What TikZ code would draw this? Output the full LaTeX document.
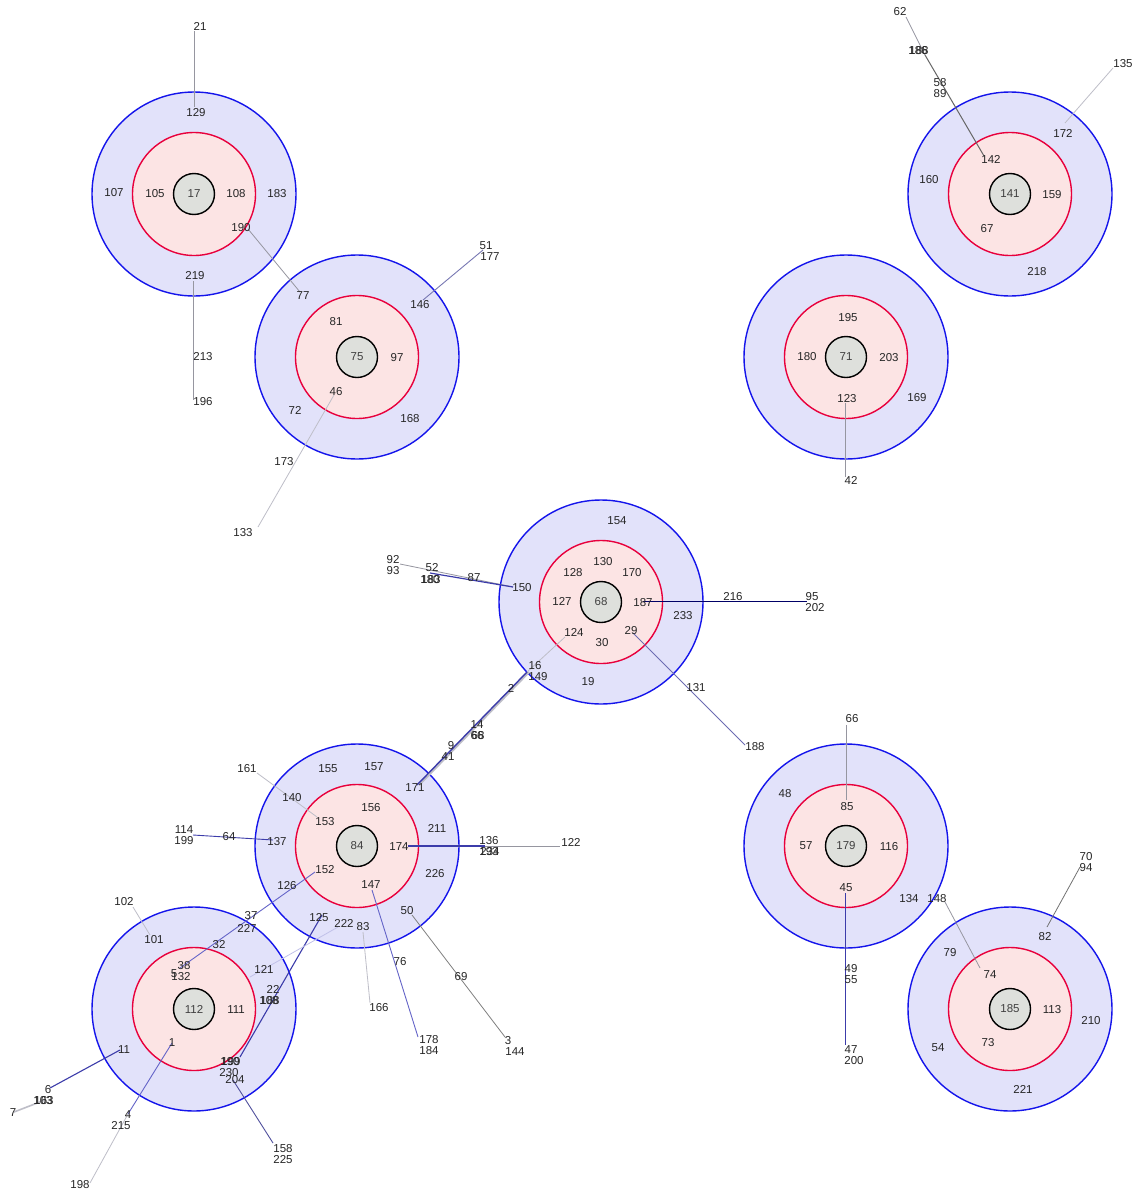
\documentclass[tikz,border=0pt]{standalone}
\usepackage{fontspec}
\setmainfont{Liberation Sans}
\definecolor{ringblue}{RGB}{20,20,235}
\definecolor{ringred}{RGB}{232,0,60}
\definecolor{ringfill}{RGB}{226,226,250}
\definecolor{redfill}{RGB}{252,228,228}
\definecolor{corefill}{RGB}{222,224,220}
\definecolor{linegray}{RGB}{150,150,160}
\definecolor{lightgray}{RGB}{190,190,200}
\definecolor{lineblue}{RGB}{100,100,200}
\definecolor{linedark}{RGB}{60,60,170}
\tikzset{
  lbl/.style={font=\fontsize{11.5}{12}\selectfont, inner sep=0pt, text=black!85},
  outerc/.style={circle, draw=ringblue, fill=ringfill, line width=1.4pt, minimum size=204pt, inner sep=0pt},
  redc/.style={circle, draw=ringred, fill=redfill, line width=1.4pt, minimum size=123pt, inner sep=0pt},
  corec/.style={circle, draw=black, fill=corefill, line width=1.4pt, minimum size=41pt, inner sep=0pt, font=\fontsize{11.5}{12}\selectfont, text=black!75},
  gline/.style={draw=linegray, line width=0.8pt},
  lgline/.style={draw=lightgray, line width=0.8pt},
  bline/.style={draw=lineblue, line width=0.9pt},
  dline/.style={draw=linedark, line width=1.4pt},
}
\newcommand\ringset[4]{%
  \node[outerc] (#1o) at (#2,#3) {};
  \node[redc] (#1r) at (#2,#3) {};
  \node[corec] (#1) at (#2,#3) {#4};
}
\begin{document}
\begin{tikzpicture}[x=1pt,y=-1pt]
\path[use as bounding box] (0,0) rectangle (1142,1194);
\fill[white] (0,0) rectangle (1142,1194);
% ---------------- rings
\ringset{c17}{194}{194}{17}
\ringset{c75}{357}{357}{75}
\ringset{c141}{1010}{194}{141}
\ringset{c71}{846}{357}{71}
\ringset{c68}{601}{602}{68}
\ringset{c84}{357}{846}{84}
\ringset{c112}{194}{1009}{112}
\ringset{c179}{846}{846}{179}
\ringset{c185}{1010}{1009}{185}
% ---------------- connector end points
\coordinate (a21) at (194,31);   \coordinate (a129) at (194,107);
\coordinate (a219) at (193,281); \coordinate (a196) at (193,400);
\coordinate (a190) at (248,229); \coordinate (a77) at (300,292);
\coordinate (a146) at (423,300); \coordinate (a51) at (483,250);
\coordinate (a46) at (334,395);  \coordinate (a133) at (258,527);
\coordinate (a62) at (906,17);   \coordinate (a186) at (925,55); \coordinate (a142) at (984,156);
\coordinate (a172) at (1065,123); \coordinate (a135) at (1113,68);
\coordinate (a123) at (845,403); \coordinate (a42) at (845,477);
\coordinate (a92) at (400,564);  \coordinate (a52) at (430,573); \coordinate (a150) at (513,587);
\coordinate (a187) at (643,601); \coordinate (a95) at (807,601);
\coordinate (a29) at (633,633);  \coordinate (a188) at (745,745);
\coordinate (a124) at (565,637); \coordinate (a16) at (527,672); \coordinate (a171) at (417,785);
\coordinate (a161) at (257,773); \coordinate (a153) at (317,817);
\coordinate (a114) at (193,835); \coordinate (a137) at (273,840);
\coordinate (a174) at (408,846); \coordinate (a136) at (485,846); \coordinate (a122) at (560,846);
\coordinate (a152) at (315,872); \coordinate (a38) at (180,968);
\coordinate (a147) at (372,890); \coordinate (a178) at (418,1037);
\coordinate (a50) at (412,915);  \coordinate (a3) at (505,1037);
\coordinate (a83) at (363,932);  \coordinate (a166) at (370,1003);
\coordinate (a125) at (322,915); \coordinate (a199) at (240,1057);
\coordinate (a222) at (338,927); \coordinate (a121) at (250,977);
\coordinate (a102) at (133,907); \coordinate (a101) at (150,935);
\coordinate (a11) at (120,1050); \coordinate (a6) at (50,1088);
\coordinate (a103) at (45,1100); \coordinate (a7) at (14,1112);
\coordinate (a1) at (172,1043);  \coordinate (a4) at (128,1114); \coordinate (a198) at (90,1183);
\coordinate (a204) at (233,1080); \coordinate (a158) at (273,1143);
\coordinate (a66) at (846,725);  \coordinate (a85) at (846,800);
\coordinate (a45) at (845,893);  \coordinate (a47) at (845,1045);
\coordinate (a148) at (945,902); \coordinate (a74) at (980,968);
\coordinate (a82) at (1047,927); \coordinate (a70) at (1080,867);
% ---------------- connectors
\draw[gline] (a21) -- (a129);
\draw[gline] (a219) -- (a196);
\draw[gline] (a190) -- (a77);
\draw[bline, draw=linegray!80!blue] (a146) -- (a51);
\draw[lgline] (a46) -- (a133);
\draw[gline] (a62) -- (a186);
\draw[draw=black!60, line width=1pt] (a186) -- (a142);
\draw[lgline] (a172) -- (a135);
\draw[gline] (a123) -- (a42);
\draw[gline] (a92) -- (a150);
\draw[dline, line width=1.2pt] (a52) -- (a150);
\draw[draw=black!60!blue, line width=0.9pt] (a187) -- (a95);
\draw[bline, draw=lineblue!70!gray] (a29) -- (a188);
\draw[lgline] (a124) -- (a16);
\draw[lgline, line width=2.2pt] ([xshift=2pt]a16) -- ([xshift=2pt]a171);
\draw[dline] (a16) -- (a171);
\draw[lgline] (a161) -- (a153);
\draw[bline, draw=linedark] (a114) -- (a137);
\draw[dline, line width=1.1pt] (a174) -- (a136);
\draw[gline] (a136) -- (a122);
\draw[bline] (a152) -- (a38);
\draw[bline] (a147) -- (a178);
\draw[gline, draw=black!50] (a50) -- (a3);
\draw[lgline] (a83) -- (a166);
\draw[dline, line width=1.1pt] (a125) -- (a199);
\draw[lgline, draw=lineblue!40] (a222) -- (a121);
\draw[lgline] (a102) -- (a101);
\draw[dline, line width=1.1pt] (a11) -- (a6);
\draw[lgline, line width=1.6pt] (a103) -- (a7);
\draw[bline] (a1) -- (a4);
\draw[lgline] (a4) -- (a198);
\draw[bline, draw=linedark!70!gray] (a204) -- (a158);
\draw[gline] (a66) -- (a85);
\draw[bline, draw=linedark] (a45) -- (a47);
\draw[gline] (a148) -- (a74);
\draw[gline, draw=black!55] (a82) -- (a70);
% ---------------- labels: cluster 17
\node[lbl] (n21) at (200,26) {21};
\node[lbl] (n129) at (196,113) {129};
\node[lbl] (n107) at (114,193) {107};
\node[lbl] (n105) at (155,194) {105};
\node[lbl] (n108) at (236,194) {108};
\node[lbl] (n183) at (277,194) {183};
\node[lbl] (n190) at (241,228) {190};
\node[lbl] (n219) at (195,276) {219};
\node[lbl] (n213) at (203,357) {213};
\node[lbl] (n196) at (203,402) {196};
% cluster 75
\node[lbl] (n77) at (303,296) {77};
\node[lbl] (n146) at (420,305) {146};
\node[lbl] (n81) at (336,322) {81};
\node[lbl] (n97) at (397,358) {97};
\node[lbl] (n46) at (336,392) {46};
\node[lbl] (n72) at (295,410) {72};
\node[lbl] (n168) at (410,419) {168};
\node[lbl] (n173) at (284,462) {173};
\node[lbl] (n133) at (243,533) {133};
\node[lbl] (n51) at (486,246) {51};
\node[lbl] (n177) at (490,257) {177};
% cluster 141
\node[lbl] (n62) at (900,12) {62};
\node[lbl] (n186) at (918,51) {186};
\node[lbl] (n186b) at (919,51) {188};
\node[lbl] (n58) at (940,83) {58};
\node[lbl] (n89) at (940,94) {89};
\node[lbl] (n135) at (1123,64) {135};
\node[lbl] (n172) at (1063,133) {172};
\node[lbl] (n142) at (991,159) {142};
\node[lbl] (n160) at (929,180) {160};
\node[lbl] (n159) at (1052,195) {159};
\node[lbl] (n67) at (987,229) {67};
\node[lbl] (n218) at (1037,272) {218};
% cluster 71
\node[lbl] (n195) at (848,318) {195};
\node[lbl] (n180) at (807,357) {180};
\node[lbl] (n203) at (889,358) {203};
\node[lbl] (n123) at (847,399) {123};
\node[lbl] (n169) at (917,398) {169};
\node[lbl] (n42) at (851,480) {42};
% cluster 68
\node[lbl] (n154) at (617,521) {154};
\node[lbl] (n130) at (603,562) {130};
\node[lbl] (n128) at (573,573) {128};
\node[lbl] (n170) at (632,573) {170};
\node[lbl] (n127) at (562,601) {127};
\node[lbl] (n187) at (643,603) {187};
\node[lbl] (n124) at (574,632) {124};
\node[lbl] (n29) at (631,631) {29};
\node[lbl] (n30) at (602,643) {30};
\node[lbl] (n233) at (683,616) {233};
\node[lbl] (n150) at (522,588) {150};
\node[lbl] (n16) at (535,666) {16};
\node[lbl] (n149) at (538,677) {149};
\node[lbl] (n19) at (588,682) {19};
\node[lbl] (n131) at (696,688) {131};
\node[lbl] (n188) at (755,747) {188};
\node[lbl] (n216) at (733,597) {216};
\node[lbl] (n95) at (812,597) {95};
\node[lbl] (n202) at (815,608) {202};
\node[lbl] (n92) at (393,560) {92};
\node[lbl] (n93) at (393,571) {93};
\node[lbl] (n52) at (432,568) {52};
\node[lbl] (n180b) at (430,580) {180};
\node[lbl] (n183b) at (431,580) {183};
\node[lbl] (n87) at (474,578) {87};
\node[lbl] (n2) at (511,688) {2};
\node[lbl] (n14) at (477,725) {14};
\node[lbl] (n66b) at (477,736) {66};
\node[lbl] (n68b) at (478,736) {68};
\node[lbl] (n9) at (451,746) {9};
\node[lbl] (n41) at (448,757) {41};
\node[lbl] (n171) at (415,788) {171};
% cluster 84
\node[lbl] (n161) at (247,769) {161};
\node[lbl] (n155) at (328,769) {155};
\node[lbl] (n157) at (374,767) {157};
\node[lbl] (n140) at (292,798) {140};
\node[lbl] (n156) at (371,808) {156};
\node[lbl] (n153) at (325,822) {153};
\node[lbl] (n211) at (437,828) {211};
\node[lbl] (n114) at (184,830) {114};
\node[lbl] (n199) at (184,841) {199};
\node[lbl] (n64) at (229,837) {64};
\node[lbl] (n137) at (277,842) {137};
\node[lbl] (n174) at (399,847) {174};
\node[lbl] (n136) at (489,841) {136};
\node[lbl] (n193) at (489,852) {193};
\node[lbl] (n234) at (490,852) {234};
\node[lbl] (n122) at (571,842) {122};
\node[lbl] (n152) at (325,870) {152};
\node[lbl] (n126) at (287,886) {126};
\node[lbl] (n147) at (371,885) {147};
\node[lbl] (n226) at (435,874) {226};
\node[lbl] (n50) at (407,911) {50};
\node[lbl] (n125) at (319,918) {125};
\node[lbl] (n222) at (344,923) {222};
\node[lbl] (n83) at (363,927) {83};
\node[lbl] (n37) at (251,916) {37};
\node[lbl] (n227) at (247,928) {227};
\node[lbl] (n76) at (400,962) {76};
\node[lbl] (n69) at (461,977) {69};
\node[lbl] (n166) at (379,1008) {166};
\node[lbl] (n178) at (429,1040) {178};
\node[lbl] (n184) at (429,1051) {184};
\node[lbl] (n3) at (508,1041) {3};
\node[lbl] (n144) at (515,1052) {144};
% cluster 112
\node[lbl] (n102) at (124,902) {102};
\node[lbl] (n101) at (154,940) {101};
\node[lbl] (n32) at (219,945) {32};
\node[lbl] (n121) at (264,969) {121};
\node[lbl] (n38) at (184,966) {38};
\node[lbl] (n5) at (174,974) {5};
\node[lbl] (n132) at (181,977) {132};
\node[lbl] (n22) at (273,989) {22};
\node[lbl] (n108b) at (269,1001) {108};
\node[lbl] (n188b) at (270,1001) {188};
\node[lbl] (n111) at (236,1010) {111};
\node[lbl] (n11) at (124,1050) {11};
\node[lbl] (n1) at (172,1043) {1};
\node[lbl] (n190b) at (230,1062) {190};
\node[lbl] (n199b) at (231,1062) {199};
\node[lbl] (n230) at (229,1073) {230};
\node[lbl] (n204) at (235,1080) {204};
\node[lbl] (n6) at (48,1090) {6};
\node[lbl] (n103) at (43,1101) {103};
\node[lbl] (n163) at (44,1101) {163};
\node[lbl] (n7) at (13,1113) {7};
\node[lbl] (n4) at (128,1115) {4};
\node[lbl] (n215) at (121,1126) {215};
\node[lbl] (n198) at (80,1185) {198};
\node[lbl] (n158) at (283,1149) {158};
\node[lbl] (n225) at (283,1160) {225};
% cluster 179
\node[lbl] (n66) at (852,719) {66};
\node[lbl] (n48) at (785,794) {48};
\node[lbl] (n85) at (847,807) {85};
\node[lbl] (n57) at (806,846) {57};
\node[lbl] (n116) at (889,847) {116};
\node[lbl] (n45) at (846,888) {45};
\node[lbl] (n134) at (909,899) {134};
\node[lbl] (n148) at (937,899) {148};
\node[lbl] (n49) at (851,969) {49};
\node[lbl] (n55) at (851,980) {55};
\node[lbl] (n47) at (851,1050) {47};
\node[lbl] (n200) at (854,1061) {200};
% cluster 185
\node[lbl] (n70) at (1086,857) {70};
\node[lbl] (n94) at (1086,868) {94};
\node[lbl] (n82) at (1045,937) {82};
\node[lbl] (n79) at (950,953) {79};
\node[lbl] (n74) at (990,975) {74};
\node[lbl] (n113) at (1052,1010) {113};
\node[lbl] (n210) at (1091,1021) {210};
\node[lbl] (n54) at (938,1048) {54};
\node[lbl] (n73) at (988,1043) {73};
\node[lbl] (n221) at (1023,1089) {221};
\end{tikzpicture}
\end{document}
